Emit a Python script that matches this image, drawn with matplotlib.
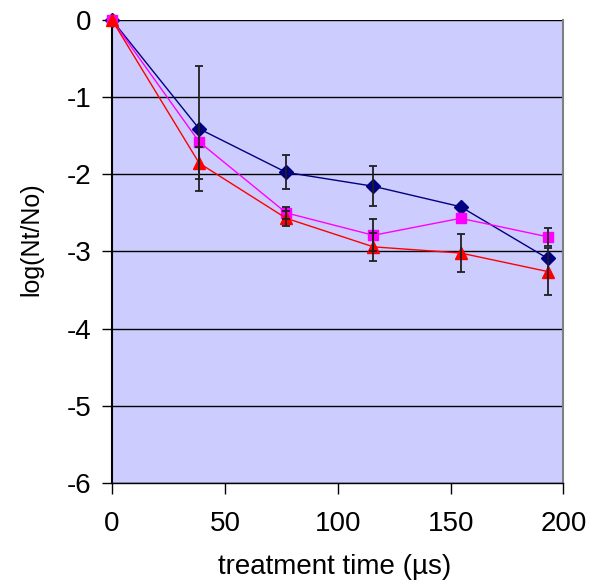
import matplotlib
matplotlib.use("Agg")
import matplotlib.pyplot as plt

plt.rcParams['font.family'] = ['Liberation Sans', 'DejaVu Sans']

time_us = [0, 38.6, 77.2, 115.8, 154.4, 193.0]

blue_vals = [0, -1.41, -1.975, -2.155, -2.42, -3.09]
blue_err = [0, 0.81, 0.22, 0.26, 0.0, 0.0]

magenta_vals = [0, -1.58, -2.50, -2.79, -2.57, -2.81]
magenta_err = [0, 0.0, 0.08, 0.21, 0.0, 0.12]

red_vals = [0, -1.855, -2.57, -2.94, -3.02, -3.26]
red_err = [0, 0.21, 0.10, 0.18, 0.25, 0.30]

x_ticks = [0, 50, 100, 150, 200]
y_ticks = [0, -1, -2, -3, -4, -5, -6]

fig = plt.figure(figsize=(6.01, 5.86), dpi=100)
ax = fig.add_axes([0.1864, 0.1758, 0.7512, 0.7901])
ax.set_facecolor('#CCCCFF')

for yv in y_ticks:
    ax.axhline(yv, color='black', lw=1.0, zorder=1)

series = [
    (blue_vals, blue_err, '#000080', 'D', 7.2),
    (magenta_vals, magenta_err, '#FF00FF', 's', 7.2),
    (red_vals, red_err, '#FF0000', '^', 8.8),
]
for vals, err, col, mk, ms in series:
    ax.plot(time_us, vals, color=col, lw=1.0, marker=mk, markersize=ms,
            markeredgecolor=col, markerfacecolor=col, zorder=3, clip_on=False)
for vals, err, col, mk, ms in series:
    xs = [t for t, e in zip(time_us, err) if e > 0]
    ys = [v for v, e in zip(vals, err) if e > 0]
    es = [e for e in err if e > 0]
    ax.errorbar(xs, ys, yerr=es, fmt='none', ecolor='#202020',
                elinewidth=1.3, capsize=3, capthick=1.3, zorder=4)

ax.set_xlim(0, 200)
ax.set_ylim(-6, 0)
ax.set_xticks(x_ticks)
ax.set_yticks(y_ticks)
ax.set_xticklabels([str(v) for v in x_ticks])
ax.set_yticklabels([str(v) for v in y_ticks])
ax.tick_params(axis='x', direction='out', length=8, width=1, labelsize=20, pad=12)
ax.tick_params(axis='y', direction='out', length=7, width=1, labelsize=20, pad=8)

ax.spines['left'].set_color('black')
ax.spines['left'].set_linewidth(1.5)
ax.spines['bottom'].set_color('black')
ax.spines['bottom'].set_linewidth(1.0)
ax.spines['right'].set_color('#808080')
ax.spines['right'].set_linewidth(1.5)
ax.spines['top'].set_visible(False)

ax.set_xlabel('treatment time (µs)', fontsize=20)
ax.set_ylabel('log(Nt/No)', fontsize=18)
ax.xaxis.set_label_coords(0.494, -0.153)
ax.yaxis.set_label_coords(-0.153, 0.527)

fig.savefig('out.png', dpi=100)
